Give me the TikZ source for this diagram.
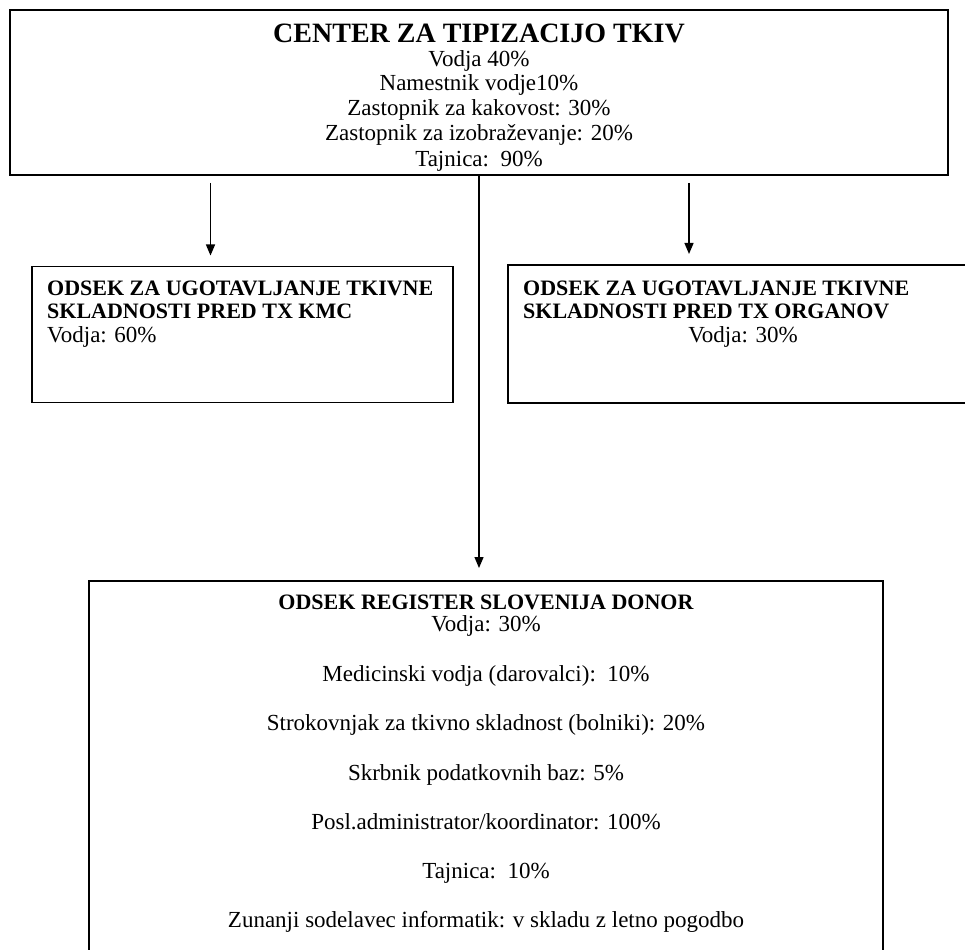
\documentclass[tikz,border=0pt]{standalone}
\usepackage{fontspec}
\setmainfont{Liberation Serif}
\usetikzlibrary{arrows.meta}
\begin{document}
\begin{tikzpicture}[x=1pt,y=-1pt,
  box/.style={draw=black, line width=1.7pt, rectangle, inner sep=0pt, outer sep=0pt},
  reg/.style={font=\fontsize{23}{25}\selectfont, inner sep=0pt, anchor=base},
  regl/.style={reg, anchor=base west},
  bigt/.style={font=\fontsize{28}{30}\selectfont\bfseries, inner sep=0pt, anchor=base},
  subt/.style={font=\fontsize{22}{24}\selectfont\bfseries, inner sep=0pt, anchor=base west},
  subc/.style={subt, anchor=base},
  arr/.style={line width=1.3pt, -{Triangle[length=11pt,width=9pt]}}
]
\useasboundingbox (0,0) rectangle (965,949);
% boxes
\node[box, minimum width=938pt, minimum height=165pt] (top) at (479,92.5) {};
\node[box, minimum width=421pt, minimum height=136pt] (left) at (242.5,334.5) {};
\node[box, minimum width=460pt, minimum height=138pt] (right) at (738,334) {};
\node[box, minimum width=794pt, minimum height=390pt] (bottom) at (486,776) {};
% top texts
\node[bigt] (t0) at (479,43) {CENTER ZA TIPIZACIJO TKIV};
\node[reg] (t1) at (479,67) {Vodja 40\%};
\node[reg] (t2) at (479,91) {Namestnik vodje10\%};
\node[reg] (t3) at (479,116) {Zastopnik za kakovost: 30\%};
\node[reg] (t4) at (479,141) {Zastopnik za izobraževanje: 20\%};
\node[reg] (t5) at (479,167) {Tajnica:\ \ 90\%};
% left texts
\node[subt] (l1) at (47,295) {ODSEK ZA UGOTAVLJANJE TKIVNE};
\node[subt] (l2) at (47,318) {SKLADNOSTI PRED TX KMC};
\node[regl] (l3) at (47,342) {Vodja: 60\%};
% right texts
\node[subt] (r1) at (523,295) {ODSEK ZA UGOTAVLJANJE TKIVNE};
\node[subt] (r2) at (523,318) {SKLADNOSTI PRED TX ORGANOV};
\node[reg] (r3) at (743,342) {Vodja: 30\%};
% bottom texts
\node[subc] (b0) at (486,609) {ODSEK REGISTER SLOVENIJA DONOR};
\node[reg] (b1) at (486,631) {Vodja: 30\%};
\node[reg] (b2) at (486,681) {Medicinski vodja (darovalci):\ \ 10\%};
\node[reg] (b3) at (486,730) {Strokovnjak za tkivno skladnost (bolniki): 20\%};
\node[reg] (b4) at (486,780) {Skrbnik podatkovnih baz: 5\%};
\node[reg] (b5) at (486,829) {Posl.administrator/koordinator: 100\%};
\node[reg] (b6) at (486,878) {Tajnica:\ \ 10\%};
\node[reg] (b7) at (486,927) {Zunanji sodelavec informatik: v skladu z letno pogodbo};
% connectors
\coordinate (la) at (210.5,0);
\coordinate (ra) at (689,0);
\draw[arr, shorten <=8pt, shorten >=11pt] (top.south -| la) -- (left.north -| la);
\draw[arr, shorten <=8pt, shorten >=11pt] (top.south -| ra) -- (right.north -| ra);
\draw[arr, shorten >=13pt] (top.south) -- (top.south |- bottom.north);
\end{tikzpicture}
\end{document}
